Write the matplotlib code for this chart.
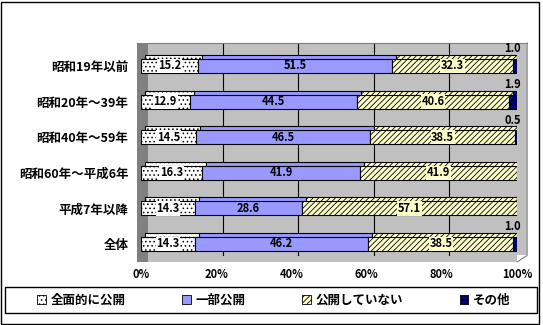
import matplotlib
matplotlib.use('Agg')
import matplotlib.pyplot as plt
from matplotlib.patches import Patch, Rectangle
from matplotlib.transforms import ScaledTranslation

categories = ['昭和19年以前', '昭和20年～39年', '昭和40年～59年',
              '昭和60年～平成6年', '平成7年以降', '全体']
full_open = [15.2, 12.9, 14.5, 16.3, 14.3, 14.3]
partial_open = [51.5, 44.5, 46.5, 41.9, 28.6, 46.2]
not_open = [32.3, 40.6, 38.5, 41.9, 57.1, 38.5]
other = [1.0, 1.9, 0.5, 0.0, 0.0, 1.0]
series_names = ['全面的に公開', '一部公開', '公開していない', 'その他']
xticks = [0, 20, 40, 60, 80, 100]
xticklabels = ['0%', '20%', '40%', '60%', '80%', '100%']

plt.rcParams['font.family'] = ['Noto Sans CJK JP', 'DejaVu Sans']
plt.rcParams['hatch.linewidth'] = 0.6

W, H = 543, 325
fig = plt.figure(figsize=(W / 100, H / 100), dpi=100)
ax = fig.add_axes([141 / W, 1 - 262 / H, 376 / W, (262 - 43) / H])
ax.set_xlim(0, 100)
ax.set_ylim(5.506, -0.646)
ax.set_facecolor('#c0c0c0')
for s in ax.spines.values():
    s.set_visible(False)

# back wall extension / side wall
ax.add_patch(Rectangle((1.0, 0.03), 0.027, 0.97, transform=ax.transAxes,
                       facecolor='#c0c0c0', edgecolor='none', clip_on=False, zorder=0))
ax.add_patch(Rectangle((-0.011, 0.0), 0.03, 1.0, transform=ax.transAxes,
                       facecolor='#808080', edgecolor='none', clip_on=False, zorder=0.5))
ax.plot([1.0, 1.027, 1.027], [0.0, 0.03, 1.0], transform=ax.transAxes,
        color='#808080', lw=0.8, clip_on=False)
ax.plot([0.019, 1.027], [1.0, 1.0], transform=ax.transAxes,
        color='#808080', lw=0.8, clip_on=False)

# back grid lines
grid_off = ax.transData + ScaledTranslation(7 / 100, 0, fig.dpi_scale_trans)
for v in xticks[1:-1]:
    ax.plot([v, v], [-0.646, 5.3], color='black', lw=0.8, transform=grid_off, zorder=1)

series = [full_open, partial_open, not_open, other]
faces = ['white', '#9999ff', '#ffffcc', '#000080']
hatches = ['....', None, '//////', '....']
y = list(range(len(categories)))
h = 0.39
depth = ax.transData + ScaledTranslation(4 / 100, 4 / 100, fig.dpi_scale_trans)
left = [0.0] * len(categories)
for vals, fc, ht in zip(series, faces, hatches):
    for i, v in enumerate(vals):
        if v <= 0:
            continue
        ax.barh(y[i], v, left=left[i], height=h, color=fc, hatch=ht,
                edgecolor='black', linewidth=0.8, transform=depth, zorder=2)
    for i, v in enumerate(vals):
        if v <= 0:
            continue
        ax.barh(y[i], v, left=left[i], height=h, color=fc, hatch=ht,
                edgecolor='black', linewidth=0.8, zorder=3)
    left = [l + v for l, v in zip(left, vals)]

# value labels
left = [0.0] * len(categories)
for k, (vals, fc) in enumerate(zip(series[:3], faces[:3])):
    for i, v in enumerate(vals):
        bb = dict(facecolor=fc, edgecolor='none', pad=0.5) if k != 1 else None
        ax.text(left[i] + v / 2, y[i], f'{v:.1f}', ha='center', va='center',
                fontsize=8, fontweight='bold', zorder=5, bbox=bb)
    left = [l + v for l, v in zip(left, vals)]
for i, v in enumerate(other):
    if v > 0:
        ax.text(101, y[i] - 0.48, f'{v:.1f}', ha='right', va='center',
                fontsize=8, fontweight='bold', zorder=5)

ax.set_yticks(y)
ax.set_yticklabels(categories, fontsize=9, fontweight='bold')
ax.set_xticks(xticks)
ax.set_xticklabels(xticklabels, fontsize=8, fontweight='bold')
ax.tick_params(axis='both', length=0, pad=9)
ax.tick_params(axis='x', pad=4)

handles = [Patch(facecolor=fc, edgecolor='black', hatch=ht, linewidth=0.6)
           for fc, ht in zip(faces, hatches)]
leg = fig.legend(handles, series_names, ncol=4,
                 bbox_to_anchor=(274 / W, 1 - 300 / H), loc='center',
                 frameon=False, columnspacing=4.5,
                 handlelength=0.7, handleheight=0.7, handletextpad=0.4,
                 borderaxespad=0, prop={'size': 9, 'weight': 'bold'})

fig.patches.append(Rectangle((5 / W, 1 - 313 / H), 532 / W, 26 / H,
                             transform=fig.transFigure, fill=False,
                             edgecolor='black', linewidth=1.0))
fig.patches.append(Rectangle((0.5 / W, 1.5 / H), 538 / W, 322 / H,
                             transform=fig.transFigure, fill=False,
                             edgecolor='black', linewidth=1.0))

fig.savefig('out.png', dpi=100)
